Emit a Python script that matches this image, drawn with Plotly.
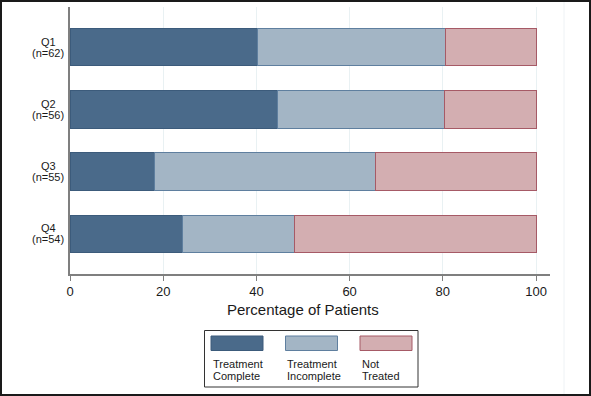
import plotly.graph_objects as go

# ---- data ----
categories = ["Q1", "Q2", "Q3", "Q4"]
sample_sizes = [62, 56, 55, 54]
series_names = ["Treatment Complete", "Treatment Incomplete", "Not Treated"]
complete = [40.3, 44.6, 18.2, 24.1]
incomplete = [40.3, 35.8, 47.3, 24.1]
not_treated = [19.4, 19.6, 34.5, 51.8]
x_ticks = [0, 20, 40, 60, 80, 100]

series_values = [complete, incomplete, not_treated]
fill_colors = ["#4a6a8a", "#a3b5c5", "#d3aeb1"]
line_colors = ["#3c5b7b", "#5f7f9f", "#a65a66"]

W, H = 591, 396
L, R, T, B = 70, 550, 7, 274


def fx(px):
    return (px - L) / (R - L)


def fy(py):
    return (B - py) / (B - T)


FONT = "Liberation Sans, Arial, sans-serif"
TXT = "#1a1a1a"

fig = go.Figure()
for name, vals, fc, lc in zip(series_names, series_values, fill_colors, line_colors):
    fig.add_trace(go.Bar(
        y=categories, x=vals, name=name, orientation="h", width=0.6,
        marker=dict(color=fc, line=dict(color=lc, width=1)),
        showlegend=False, hoverinfo="skip",
    ))

annotations = []
# category labels (centered, two lines)
for cat, n in zip(categories, sample_sizes):
    annotations.append(dict(text=cat, x=fx(48), xref="paper", y=cat, yref="y",
                            xanchor="center", yanchor="middle", yshift=5.8,
                            showarrow=False, font=dict(size=11, color=TXT, family=FONT)))
    annotations.append(dict(text=f"(n={n})", x=fx(48), xref="paper", y=cat, yref="y",
                            xanchor="center", yanchor="middle", yshift=-5.8,
                            showarrow=False, font=dict(size=11, color=TXT, family=FONT)))

# x axis title centered over data range
annotations.append(dict(text="Percentage of Patients", x=50, xref="x", y=fy(310), yref="paper",
                        xanchor="center", yanchor="middle", showarrow=False,
                        font=dict(size=15, color=TXT, family=FONT)))

shapes = []
# legend box
shapes.append(dict(type="rect", xref="paper", yref="paper",
                   x0=fx(204.5), x1=fx(418), y0=fy(387), y1=fy(330.5),
                   line=dict(color="#333333", width=1), fillcolor="rgba(0,0,0,0)"))
sw_left = [211, 285.5, 360]
for name, fc, lc, xl in zip(series_names, fill_colors, line_colors, sw_left):
    shapes.append(dict(type="rect", xref="paper", yref="paper",
                       x0=fx(xl), x1=fx(xl + 52), y0=fy(350.5), y1=fy(336),
                       line=dict(color=lc, width=1), fillcolor=fc))
    words = name.split(" ")
    for i, w in enumerate(words):
        annotations.append(dict(text=w, x=fx(xl - 0.5), xref="paper", y=fy(364 + 11.5 * i), yref="paper",
                                xanchor="left", yanchor="middle", showarrow=False,
                                font=dict(size=11, color=TXT, family=FONT)))

# faint outer plot-region line on the right
shapes.append(dict(type="line", xref="paper", yref="paper", x0=fx(564), x1=fx(564),
                   y0=fy(394), y1=fy(2), line=dict(color="#eef2f5", width=1)))
# image frame
shapes.append(dict(type="rect", xref="paper", yref="paper", x0=fx(1), x1=fx(590),
                   y0=fy(395), y1=fy(1), line=dict(color="#1a1a1a", width=2),
                   fillcolor="rgba(0,0,0,0)", layer="above"))

fig.update_layout(
    width=W, height=H,
    margin=dict(l=L, r=W - R, t=T, b=H - B, pad=0),
    paper_bgcolor="white", plot_bgcolor="white",
    barmode="stack", bargap=0.4,
    font=dict(family=FONT, color=TXT),
    annotations=annotations, shapes=shapes,
    xaxis=dict(range=[0, 103], tickvals=x_ticks, ticktext=[str(v) for v in x_ticks],
               showgrid=True, gridcolor="#e9f1f3", gridwidth=1, zeroline=False,
               showline=True, linecolor="#7f7f7f", linewidth=1.5,
               ticks="outside", ticklen=5, tickcolor="#7f7f7f", tickwidth=1.2,
               tickfont=dict(size=13, color=TXT, family=FONT)),
    yaxis=dict(categoryorder="array", categoryarray=categories, range=[3.65, -0.65],
               showgrid=False, zeroline=False, showticklabels=False, ticks="",
               showline=True, linecolor="#7f7f7f", linewidth=1.5),
)

fig.write_html("out.html", config={"displayModeBar": False},
               post_script="document.body.style.margin='0';document.body.style.overflow='hidden';")
